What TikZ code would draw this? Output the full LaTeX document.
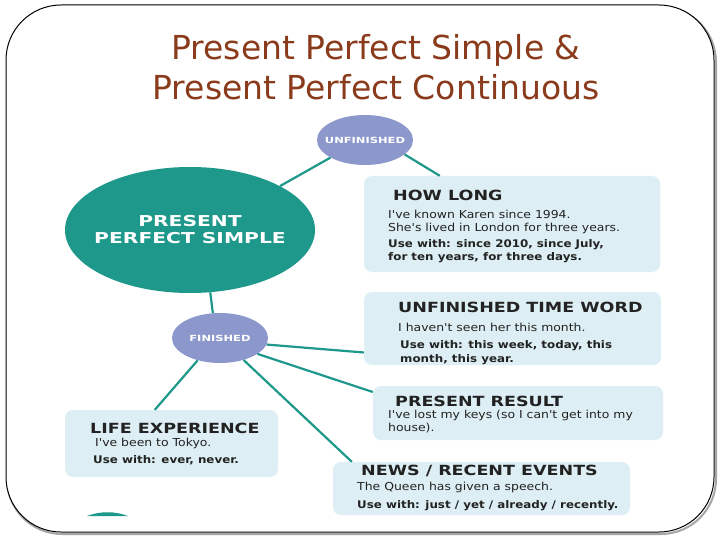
\documentclass[tikz,border=0pt]{standalone}
\usepackage{fontspec}
\setmainfont{DejaVu Sans}
\newfontfamily\widefont{DejaVu Sans}[FakeStretch=1.25]
\newfontfamily\bubblefont{DejaVu Sans}[FakeStretch=1.35]
\newfontfamily\bodyfont{DejaVu Sans}[FakeStretch=1.13]
\usepackage{tikz}
\usetikzlibrary{shapes.geometric}

\definecolor{ppteal}{RGB}{30,152,138}
\definecolor{pplilac}{RGB}{140,151,204}
\definecolor{ppbox}{RGB}{221,239,244}
\definecolor{ppbrown}{RGB}{138,59,27}
\definecolor{ppink}{RGB}{34,34,34}

\begin{document}
\begin{tikzpicture}[x=1pt,y=-1pt,
	bigbubble/.style={shape=ellipse,fill=ppteal,inner sep=0pt,minimum width=250pt,minimum height=126pt,label={[text=white,font=\bubblefont\bfseries\fontsize{15}{17}\selectfont,align=center]center:#1}},
	smallbubble/.style={shape=ellipse,fill=pplilac,inner sep=0pt,minimum width=96pt,minimum height=50pt,label={[text=white,font=\bubblefont\bfseries\fontsize{8.5}{10}\selectfont]center:#1}},
	card/.style={shape=rectangle,fill=ppbox,rounded corners=8pt,inner sep=0pt},
	cardhead/.style={anchor=west,inner sep=0pt,text=ppink,font=\widefont\bfseries\fontsize{14}{16}\selectfont},
	cardtext/.style={anchor=west,inner sep=0pt,text=ppink,font=\bodyfont\fontsize{11}{13}\selectfont},
	carduse/.style={anchor=west,inner sep=0pt,text=ppink,font=\bodyfont\bfseries\fontsize{10.5}{12}\selectfont},
	link/.style={-, draw=ppteal, line width=2.2pt}]

	\useasboundingbox (0,0) rectangle (720,540);
	\fill[white] (0,0) rectangle (720,540);

	\draw[gray!70, line width=2pt, rounded corners=55pt] (7,7) rectangle (716,534);
	\draw[black, line width=1pt, fill=white, rounded corners=55pt] (6,5) rectangle (714,532);

	\node[text=ppbrown, font=\fontsize{33}{40}\selectfont, align=center] (title) at (376,67) {Present Perfect Simple \&\\Present Perfect Continuous};

	\node[bigbubble={PRESENT\\PERFECT SIMPLE}] (pps) at (190,230) {};
	\node[smallbubble=UNFINISHED] (unf) at (365,140) {};
	\node[smallbubble=FINISHED] (fin) at (220,338) {};

	\node[card, minimum width=296pt, minimum height=96pt] (howlong) at (512,224) {};
	\node[card, minimum width=297pt, minimum height=73pt] (timeword) at (512.5,328.5) {};
	\node[card, minimum width=290pt, minimum height=54pt] (result) at (518,413) {};
	\node[card, minimum width=213pt, minimum height=67pt] (life) at (171.5,443.5) {};
	\node[card, minimum width=297pt, minimum height=53pt] (news) at (481.5,488.5) {};

	\node[cardhead] (howlong-h) at (393,195) {HOW LONG};
	\node[cardtext] (howlong-a) at (388,214) {I've known Karen since 1994.};
	\node[cardtext] (howlong-b) at (388,228) {She's lived in London for three years.};
	\node[carduse] (howlong-c) at (388,245) {Use with: since 2010, since July,};
	\node[carduse] (howlong-d) at (388,258) {for ten years, for three days.};

	\node[cardhead] (timeword-h) at (398,307) {UNFINISHED TIME WORD};
	\node[cardtext] (timeword-a) at (398,327) {I haven't seen her this month.};
	\node[carduse] (timeword-b) at (400,346) {Use with: this week, today, this};
	\node[carduse] (timeword-c) at (400,360) {month, this year.};

	\node[cardhead] (result-h) at (395,401) {PRESENT RESULT};
	\node[cardtext] (result-a) at (388,415) {I've lost my keys (so I can't get into my};
	\node[cardtext] (result-b) at (388,428) {house).};

	\node[cardhead] (life-h) at (90,428) {LIFE EXPERIENCE};
	\node[cardtext] (life-a) at (95,443) {I've been to Tokyo.};
	\node[carduse] (life-b) at (93,460) {Use with: ever, never.};

	\node[cardhead] (news-h) at (361,471) {NEWS / RECENT EVENTS};
	\node[cardtext] (news-a) at (357,487) {The Queen has given a speech.};
	\node[carduse] (news-b) at (357,506) {Use with: just / yet / already / recently.};

	\fill[ppteal] (87,516) .. controls (100,511) and (115,511) .. (128,516) -- cycle;

	\path[link] (pps.26) edge (unf.207);
	\path[link] (unf.340) edge ([xshift=76pt]howlong.north west);
	\path[link] (pps.288) edge (fin.106);
	\path[link] (fin.225) edge ([xshift=90pt]life.north west);
	\path[link] (fin.352) edge ([yshift=-24pt]timeword.west);
	\path[link] (fin.337) edge ([yshift=21pt]result.west);
	\path[link] (fin.317) edge ([xshift=19pt]news.north west);

\end{tikzpicture}
\end{document}
